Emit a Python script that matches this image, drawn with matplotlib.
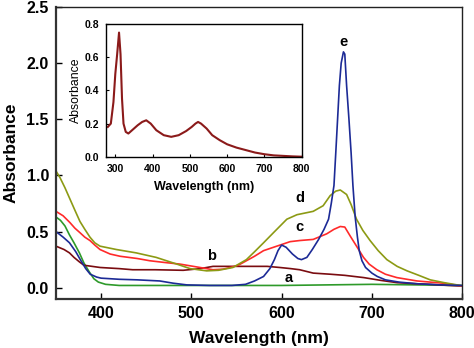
import matplotlib
matplotlib.use("Agg")
import matplotlib.pyplot as plt

plt.rcParams['font.family'] = ['Liberation Sans', 'DejaVu Sans']

# ---- main spectra (wavelength nm, absorbance) ----
a_wl = [350, 355, 360, 365, 370, 376, 381, 387, 392, 397, 405, 420, 450, 500, 550, 600, 650, 700, 750, 800]
a_ab = [0.63, 0.60, 0.55, 0.47, 0.40, 0.31, 0.22, 0.14, 0.08, 0.05, 0.03, 0.02, 0.02, 0.02, 0.02, 0.02, 0.025, 0.03, 0.025, 0.02]

b_wl = [350, 359, 365, 370, 376, 381, 390, 399, 420, 435, 460, 491, 510, 524, 545, 561, 584, 598, 610, 620, 635, 654, 670, 691, 710, 728, 750, 765, 785, 800]
b_ab = [0.37, 0.34, 0.31, 0.27, 0.23, 0.20, 0.19, 0.18, 0.17, 0.16, 0.16, 0.155, 0.17, 0.19, 0.19, 0.19, 0.19, 0.18, 0.17, 0.16, 0.13, 0.12, 0.11, 0.09, 0.065, 0.045, 0.035, 0.03, 0.02, 0.015]

c_wl = [350, 358, 365.5, 371, 376.6, 382, 387.7, 393, 398.8, 410, 421, 440, 454, 470, 487.5, 509.6, 524, 535, 543, 552, 561, 570, 580, 594.7, 609.4, 620, 635, 650, 658, 665, 670, 676, 683, 690.7, 697, 705.5, 715, 727.7, 750, 779, 800]
c_ab = [0.68, 0.64, 0.58, 0.53, 0.49, 0.45, 0.42, 0.38, 0.34, 0.30, 0.28, 0.26, 0.24, 0.225, 0.21, 0.18, 0.16, 0.165, 0.18, 0.20, 0.24, 0.28, 0.33, 0.37, 0.41, 0.42, 0.43, 0.48, 0.52, 0.545, 0.54, 0.46, 0.37, 0.27, 0.21, 0.16, 0.12, 0.09, 0.06, 0.04, 0.015]

d_wl = [350, 354.5, 360, 365.5, 371, 376.6, 382, 387.7, 393, 398.8, 417, 439, 461, 484, 498.6, 517, 530, 546, 561, 570, 580, 591, 605.8, 617, 635, 646, 653.8, 660, 665, 672, 677, 683, 690, 698, 707, 716.6, 728, 739, 752, 764.6, 780, 798]
d_ab = [1.04, 0.98, 0.89, 0.79, 0.69, 0.59, 0.52, 0.45, 0.40, 0.37, 0.34, 0.31, 0.27, 0.21, 0.17, 0.15, 0.155, 0.18, 0.25, 0.32, 0.40, 0.49, 0.61, 0.65, 0.68, 0.73, 0.82, 0.86, 0.87, 0.83, 0.74, 0.61, 0.51, 0.42, 0.33, 0.25, 0.19, 0.15, 0.11, 0.07, 0.045, 0.02]

e_wl = [350, 358, 365, 372, 377, 383, 388, 395, 400, 420, 440, 465, 480, 495, 520, 545, 560, 570, 580, 587, 592, 596, 600, 605, 612, 618, 622, 628, 634, 641, 647, 652, 655, 658, 660, 662, 664, 666, 668.5, 670, 672, 674.6, 677, 679, 681.5, 684, 686, 689, 693, 700, 706, 715, 730, 750, 775, 800]
e_ab = [0.50, 0.45, 0.40, 0.32, 0.25, 0.17, 0.12, 0.095, 0.085, 0.075, 0.07, 0.06, 0.04, 0.025, 0.02, 0.02, 0.03, 0.06, 0.10, 0.17, 0.25, 0.33, 0.38, 0.36, 0.30, 0.26, 0.25, 0.27, 0.34, 0.43, 0.52, 0.61, 0.75, 0.91, 1.20, 1.50, 1.80, 2.00, 2.10, 2.08, 1.80, 1.50, 1.20, 0.91, 0.63, 0.45, 0.33, 0.24, 0.18, 0.13, 0.10, 0.07, 0.05, 0.035, 0.025, 0.02]

# ---- inset spectrum ----
in_wl = [280, 288, 295, 300, 305, 310, 314, 318, 322, 328, 335, 345, 360, 372, 383, 395, 410, 430, 450, 470, 490, 505, 515, 522, 530, 545, 560, 580, 600, 625, 650, 675, 700, 725, 750, 775, 800]
in_ab = [0.18, 0.20, 0.33, 0.50, 0.62, 0.75, 0.62, 0.35, 0.20, 0.15, 0.14, 0.16, 0.19, 0.21, 0.22, 0.20, 0.16, 0.13, 0.12, 0.13, 0.155, 0.18, 0.20, 0.21, 0.20, 0.17, 0.13, 0.10, 0.075, 0.055, 0.04, 0.025, 0.015, 0.008, 0.005, 0.002, 0.0]

series = [
    (a_wl, a_ab, '#2e9a2a', 'a', 608, 0.09),
    (b_wl, b_ab, '#7a0c10', 'b', 522, 0.28),
    (c_wl, c_ab, '#ff2a2a', 'c', 620, 0.54),
    (d_wl, d_ab, '#8c9a14', 'd', 620, 0.80),
    (e_wl, e_ab, '#1c2a96', 'e', 668.5, 2.19),
]

fig = plt.figure(figsize=(4.74, 3.48), dpi=100)
ax = fig.add_axes([0.118, 0.141, 0.857, 0.839])
for wl, ab, col, lab, lx, ly in series:
    ax.plot(wl, ab, color=col, lw=1.2)
    ax.text(lx, ly, lab, ha='center', va='center', fontsize=10.5, fontweight='bold')

ax.set_xlim(350, 800)
ax.set_ylim(-0.1, 2.5)
ax.set_xticks([400, 500, 600, 700, 800])
ax.set_yticks([0.0, 0.5, 1.0, 1.5, 2.0, 2.5])
ax.set_yticklabels(['0.0', '0.5', '1.0', '1.5', '2.0', '2.5'])
ax.tick_params(direction='in', length=4, width=1, labelsize=11.5, top=False, right=False, pad=5)
for t in ax.get_xticklabels() + ax.get_yticklabels():
    t.set_fontweight('bold')
ax.set_xlabel('Wavelength (nm)', fontsize=12.5, fontweight='bold', labelpad=7)
ax.set_ylabel('Absorbance', fontsize=12.5, fontweight='bold', labelpad=6)
for s in ['left', 'bottom']:
    ax.spines[s].set_linewidth(1.6)
    ax.spines[s].set_color('#333333')
for s in ['top', 'right']:
    ax.spines[s].set_linewidth(1.0)
    ax.spines[s].set_color('#222222')

ins = fig.add_axes([0.2236, 0.5497, 0.4129, 0.3805])
ins.plot(in_wl, in_ab, color='#8b1a1a', lw=1.5)
ins.set_xlim(275, 800)
ins.set_ylim(0, 0.8)
ins.set_xticks([300, 400, 500, 600, 700, 800])
ins.set_yticks([0.0, 0.2, 0.4, 0.6, 0.8])
ins.set_yticklabels(['0.0', '0.2', '0.4', '0.6', '0.8'])
ins.tick_params(direction='in', length=2.5, width=0.8, labelsize=7.5, pad=5)
for t in ins.get_xticklabels() + ins.get_yticklabels():
    t.set_fontweight('bold')
ins.set_xlabel('Wavelength (nm)', fontsize=9, fontweight='bold', labelpad=5)
ins.set_ylabel('Absorbance', fontsize=8.8, labelpad=2)
for s in ins.spines.values():
    s.set_linewidth(1.0)

fig.savefig('out.png', dpi=100)
